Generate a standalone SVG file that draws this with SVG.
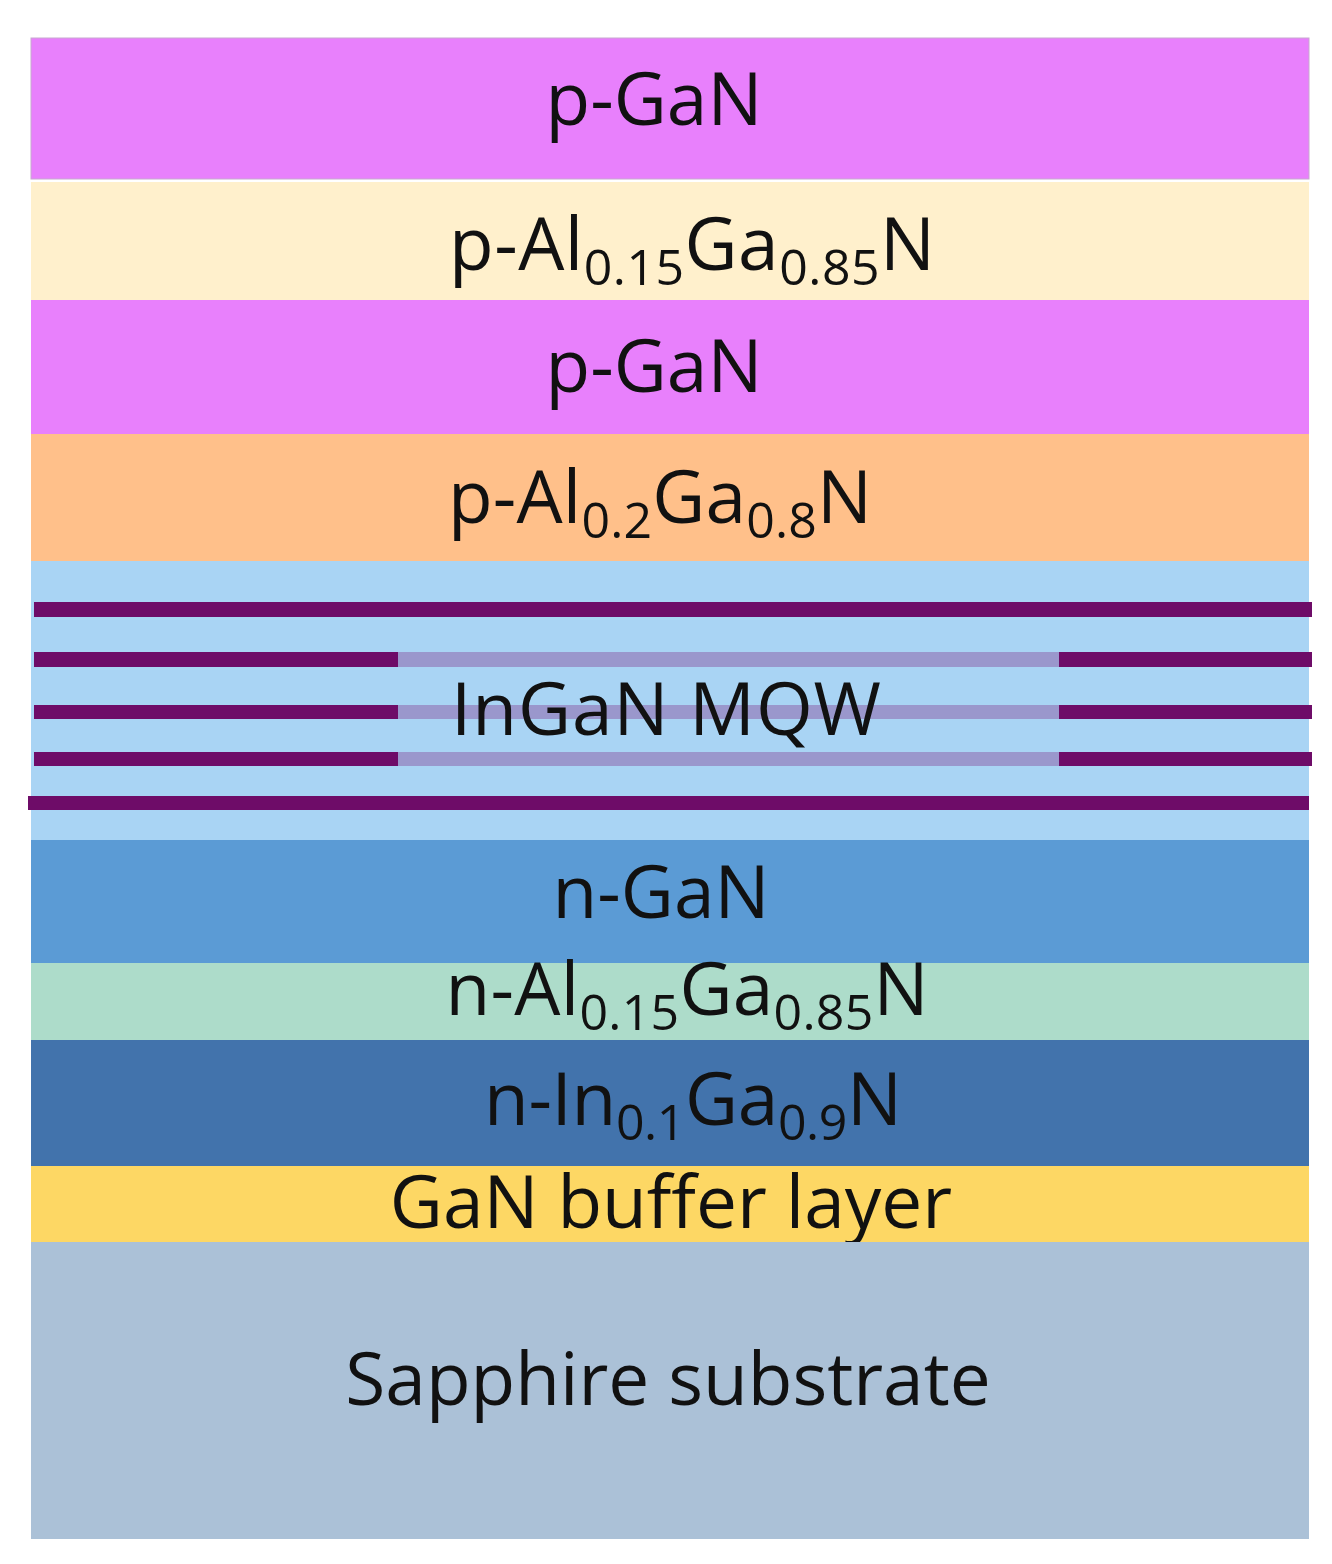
<svg xmlns="http://www.w3.org/2000/svg" width="1332" height="1564" viewBox="0 0 1332 1564">
<style>
.t{font-family:"Open Sans","Liberation Sans",sans-serif;font-size:73px;fill:#111;text-anchor:middle}
.s{font-size:50px}
.w{fill:#6E0C68}
.l{fill:#9A97CC}
</style>
<rect width="1332" height="1564" fill="#fff"/>
<g id="p-gan-top"><rect x="31" y="38" width="1278" height="141" fill="#E880FC" stroke="#c8a8d0" stroke-width="1"/><text class="t" x="654" y="125">p-GaN</text></g>
<g id="p-algan-015"><rect x="31" y="182" width="1278" height="118" fill="#FFF0CC"/><text class="t" x="692" y="270" textLength="486" lengthAdjust="spacing">p-Al<tspan class="s" dy="15">0.15</tspan><tspan dy="-15">Ga</tspan><tspan class="s" dy="15">0.85</tspan><tspan dy="-15">N</tspan></text></g>
<g id="p-gan-2"><rect x="31" y="300" width="1278" height="134" fill="#E880FC"/><text class="t" x="654" y="392">p-GaN</text></g>
<g id="p-algan-02"><rect x="31" y="434" width="1278" height="127" fill="#FFC08A"/><text class="t" x="660" y="523" textLength="424" lengthAdjust="spacing">p-Al<tspan class="s" dy="15">0.2</tspan><tspan dy="-15">Ga</tspan><tspan class="s" dy="15">0.8</tspan><tspan dy="-15">N</tspan></text></g>
<g id="mqw">
<rect x="31" y="561" width="1278" height="279" fill="#A9D4F4"/>
<rect class="w" x="34" y="602" width="1278" height="15"/>
<rect class="w" x="34" y="652" width="364" height="15"/><rect class="l" x="398" y="652" width="661" height="15"/><rect class="w" x="1059" y="652" width="253" height="15"/>
<rect class="w" x="34" y="705" width="364" height="14"/><rect class="l" x="398" y="705" width="661" height="14"/><rect class="w" x="1059" y="705" width="253" height="14"/>
<rect class="w" x="34" y="752" width="364" height="14"/><rect class="l" x="398" y="752" width="661" height="14"/><rect class="w" x="1059" y="752" width="253" height="14"/>
<rect class="w" x="28" y="796" width="1281" height="14"/>
<text class="t" x="666" y="735" textLength="430" lengthAdjust="spacing">InGaN MQW</text>
</g>
<g id="n-gan"><rect x="31" y="840" width="1278" height="123" fill="#5B9BD5"/><text class="t" x="661" y="918">n-GaN</text></g>
<g id="n-algan"><rect x="31" y="963" width="1278" height="77" fill="#ADDCCA"/><text class="t" x="687" y="1015" textLength="483" lengthAdjust="spacing">n-Al<tspan class="s" dy="15">0.15</tspan><tspan dy="-15">Ga</tspan><tspan class="s" dy="15">0.85</tspan><tspan dy="-15">N</tspan></text></g>
<g id="n-ingan"><rect x="31" y="1040" width="1278" height="126" fill="#4273AC"/><text class="t" x="693" y="1125" textLength="418" lengthAdjust="spacing">n-In<tspan class="s" dy="15">0.1</tspan><tspan dy="-15">Ga</tspan><tspan class="s" dy="15">0.9</tspan><tspan dy="-15">N</tspan></text></g>
<g id="buffer"><rect x="31" y="1166" width="1278" height="76" fill="#FDD764"/><text class="t" x="671" y="1228">GaN buffer layer</text></g>
<g id="sapphire"><rect x="31" y="1242" width="1278" height="297" fill="#ABC1D7"/><text class="t" x="668" y="1405">Sapphire substrate</text></g>
<g id="connectors"/>
</svg>
